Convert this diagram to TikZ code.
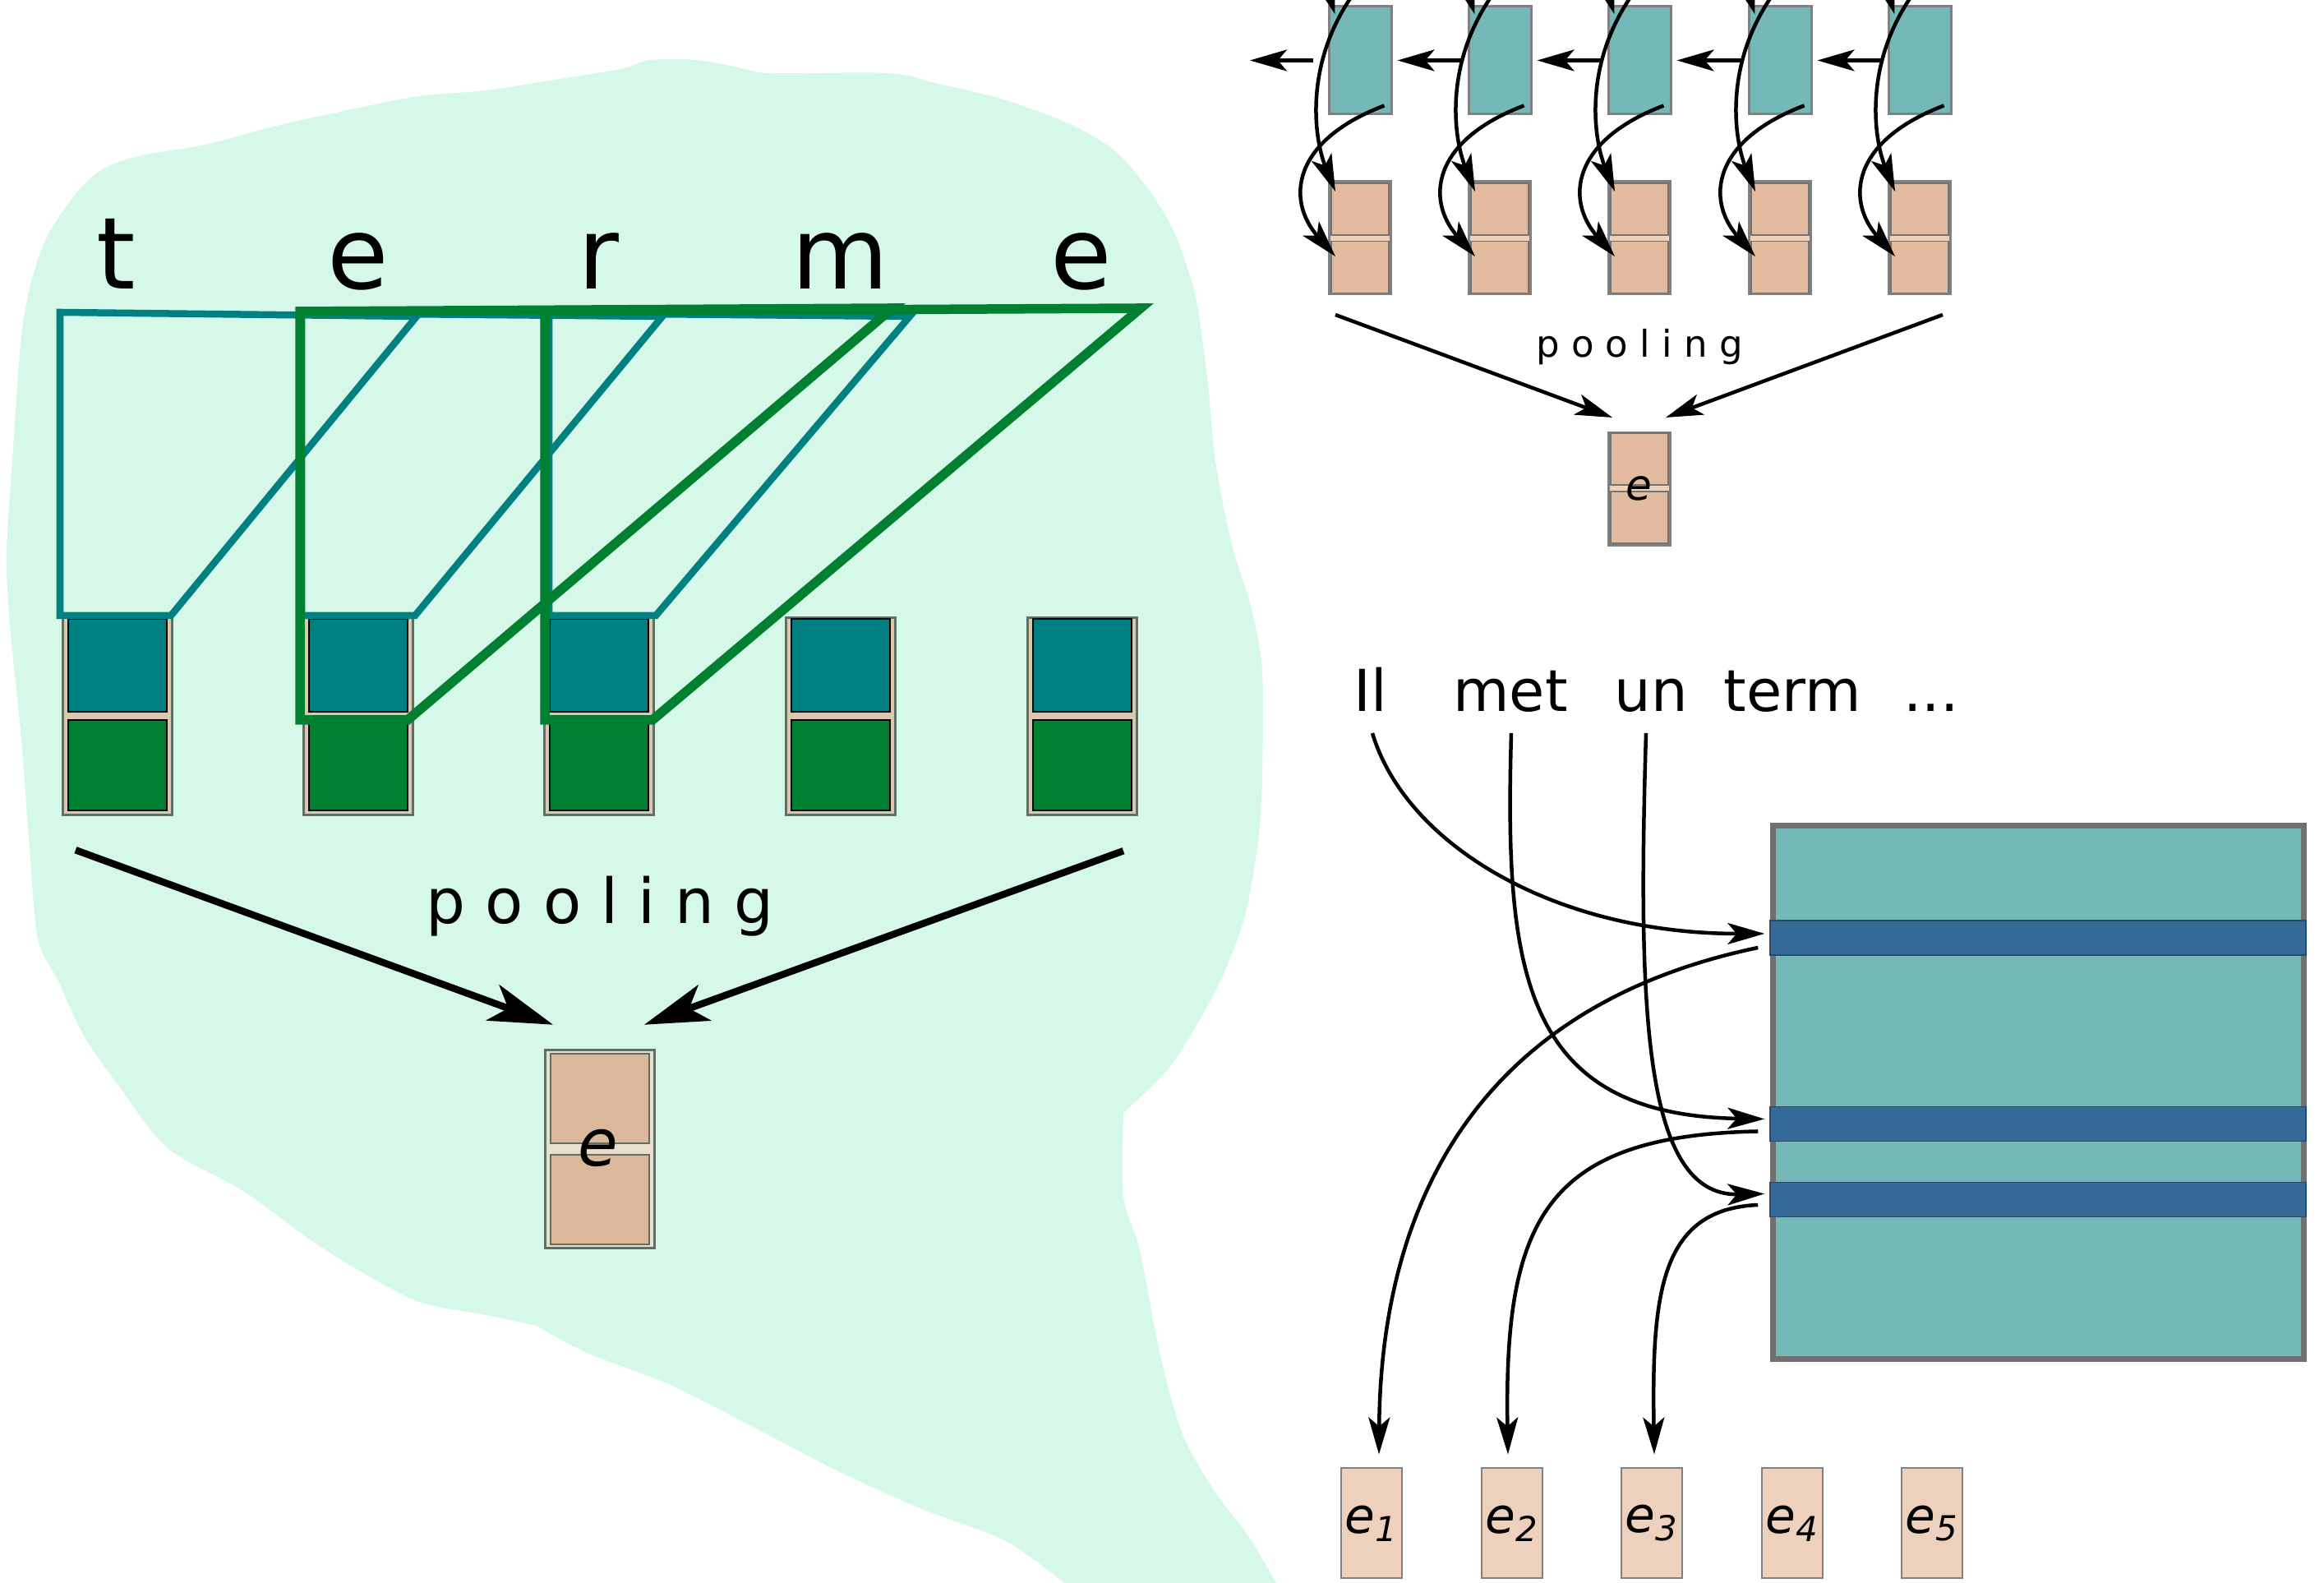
\documentclass[tikz,border=0pt]{standalone}
\usepackage{fontspec}
\setmainfont{DejaVu Sans}
\usepackage{xcolor}
\usepackage{tikz}
\usetikzlibrary{arrows.meta}

\definecolor{mint}{HTML}{D5F8E8}
\definecolor{tealk}{HTML}{008080}
\definecolor{greenk}{HTML}{008030}
\definecolor{framegray}{HTML}{5F6F65}
\definecolor{striptan}{HTML}{D9C9AD}
\definecolor{lightteal}{HTML}{74B9B8}
\definecolor{salmon}{HTML}{E2BB9E}
\definecolor{salmondk}{HTML}{DCB89B}
\definecolor{salmonlt}{HTML}{EED1BD}
\definecolor{bandblue}{HTML}{356A98}
\definecolor{mborder}{HTML}{707070}

\begin{document}
\begin{tikzpicture}[
	arr/.style={line width=0.045cm,-{Stealth[length=0.45cm,width=0.26cm,inset=0.11cm]}},
	bigarr/.style={line width=0.085cm,-{Stealth[length=0.78cm,width=0.46cm,inset=0.2cm]}},
	colframe/.style={draw=framegray,line width=0.035cm,fill=striptan,minimum width=1.33cm,minimum height=2.40cm,inner sep=0pt},
	kbox/.style={draw=black,line width=0.028cm,minimum width=1.20cm,inner sep=0pt},
	pehalf/.style={draw=framegray,line width=0.025cm,fill=salmondk,minimum width=1.20cm,minimum height=1.09cm,inner sep=0pt},
	rnnbox/.style={draw=gray,line width=0.03cm,fill=lightteal,minimum width=0.76cm,minimum height=1.31cm,inner sep=0pt},
	embframe/.style={draw=gray,line width=0.03cm,fill=salmonlt,minimum width=0.75cm,minimum height=1.37cm,inner sep=0pt},
	embhalf/.style={draw=black!55,line width=0.015cm,fill=salmon,minimum width=0.70cm,minimum height=0.63cm,inner sep=0pt},
	band/.style={draw=bandblue!70!black,line width=0.015cm,fill=bandblue,minimum width=6.52cm,minimum height=0.42cm,inner sep=0pt},
	ebox/.style={draw=gray,line width=0.02cm,fill=salmonlt,minimum width=0.74cm,minimum height=1.34cm,inner sep=0pt,font=\fontsize{17}{20}\selectfont\itshape}
	]
	\useasboundingbox (0,0) rectangle (28.28,19.26);
	\clip (0,0) rectangle (28.28,19.26);
	
	% bubble
	\fill[mint] plot[smooth,tension=0.5] coordinates {(6.53,3.13) (5.92,3.26) (5.10,3.42) (4.39,3.79) (3.77,4.18) (2.96,4.77) (2.04,5.29) (1.43,6.07) (1.02,6.66) (0.71,7.32) (0.46,7.84) (0.36,8.95) (0.26,10.26) (0.12,11.66) (0.08,12.53) (0.15,13.65) (0.26,15.18) (0.41,15.94) (0.61,16.45) (0.97,16.96) (1.28,17.22) (1.73,17.37) (2.50,17.50) (3.37,17.73) (4.28,17.93) (5.10,18.09) (5.92,18.16) (6.63,18.27) (7.55,18.42) (7.90,18.53) (8.47,18.53) (8.98,18.44) (9.38,18.37) (10.81,18.37) (11.42,18.24) (12.24,18.04) (13.06,17.73) (13.57,17.42) (13.97,16.96) (14.28,16.45) (14.54,15.69) (14.69,14.67) (14.79,13.65) (14.99,12.63) (15.23,11.85) (15.36,11.08) (15.36,9.81) (15.31,9.03) (15.16,8.16) (14.92,7.48) (14.62,6.89) (14.22,6.26) (13.67,5.72)}
		-- plot[smooth,tension=0.5] coordinates {(13.67,5.72) (13.67,4.70) (13.87,4.05) (14.10,2.86) (14.37,1.86) (14.75,1.16) (15.19,0.57) (15.53,0)}
		-- (12.95,0)
		-- plot[smooth,tension=0.5] coordinates {(12.95,0) (12.24,0.51) (11.22,0.90) (10.20,1.36) (9.18,1.89) (8.16,2.41) (7.14,2.80) (6.53,3.13)} -- cycle;
	
	% characters and filters
	\foreach \i/\x/\c in {1/1.41/t,2/4.36/e,3/7.28/r,4/10.23/m,5/13.16/e}
		\node[anchor=base,inner sep=0pt,font=\fontsize{34.5}{40}\selectfont] (ch\i) at (\x,15.74) {\c};
	\foreach \i/\x in {1/1.43,2/4.36,3/7.29,4/10.23,5/13.17}{
		\node[colframe] (frame\i) at (\x,10.545) {};
		\node[kbox,fill=tealk,minimum height=1.13cm] (kt\i) at (\x,11.165) {};
		\node[kbox,fill=greenk,minimum height=1.10cm] (kg\i) at (\x,9.95) {};
	}
	\draw[tealk,line width=0.085cm] (0.73,15.46) -- (5.07,15.41) -- (2.08,11.77) -- (0.73,11.77) -- cycle;
	\draw[tealk,line width=0.085cm] (3.67,15.45) -- (8.06,15.41) -- (5.05,11.77) -- (3.67,11.77) -- cycle;
	\draw[tealk,line width=0.085cm] (6.68,15.45) -- (11.07,15.41) -- (7.98,11.77) -- (6.68,11.77) -- cycle;
	\draw[greenk,line width=0.115cm] (3.65,15.47) -- (10.86,15.51) -- (4.96,10.50) -- (3.65,10.50) -- cycle;
	\draw[greenk,line width=0.115cm] (6.63,15.47) -- (13.88,15.51) -- (7.94,10.50) -- (6.63,10.50) -- cycle;
	
	% pooling, left
	\node[colframe,fill=striptan!60!white,minimum height=2.41cm] (pe) at (7.30,5.28) {};
	\node[pehalf] (peu) at (7.30,5.895) {};
	\node[pehalf] (pel) at (7.30,4.665) {};
	\node[font=\fontsize{22.5}{26}\selectfont\itshape,inner sep=0pt] (pelab) at (7.28,5.29) {e};
	\node[anchor=base,font=\fontsize{21.5}{26}\selectfont] (poolL) at (7.30,8.02) {p o o l i n g};
	\draw[bigarr] ([shift={(-0.51,-0.41)}]frame1.south) -- ([shift={(-0.57,0.29)}]pe.north);
	\draw[bigarr] ([shift={(0.50,-0.42)}]frame5.south) -- ([shift={(0.54,0.29)}]pe.north);
	
	% right top: recurrent cells
	\foreach \i/\x in {1/16.55,2/18.25,3/19.95,4/21.66,5/23.36}{
		\node[rnnbox] (rnn\i) at (\x,18.525) {};
		\node[embframe] (emb\i) at (\x,16.37) {};
		\node[embhalf] (embu\i) at (\x,16.715) {};
		\node[embhalf] (embl\i) at (\x,16.01) {};
	}
	\foreach \i in {1,...,5}{
		\draw[arr] ([shift={(-0.08,0.45)}]rnn\i.north west) -- ([shift={(0.09,-0.11)}]rnn\i.north west);
		\draw[arr] ([shift={(0.05,0.31)}]rnn\i.north) .. controls +(-0.75,-0.9) and +(-0.27,0.67) .. ([shift={(0.09,-0.14)}]emb\i.north west);
		\draw[arr] ([shift={(-0.10,0.12)}]rnn\i.south east) .. controls +(-1.13,-0.43) and +(-0.6,0.68) .. ([shift={(0.09,-0.93)}]emb\i.north west);
	}
	\foreach \i/\j in {2/1,3/2,4/3,5/4}
		\draw[arr,shorten <=0.08cm,shorten >=0.06cm] (rnn\i.west) -- (rnn\j.east);
	\coordinate (rnn0) at (15.21,18.525);
	\draw[arr,shorten <=0.18cm] (rnn1.west) -- (rnn0);
	
	\node[embframe] (pe2) at (19.95,13.31) {};
	\node[embhalf] (pe2u) at (19.95,13.675) {};
	\node[embhalf] (pe2l) at (19.95,12.965) {};
	\node[font=\fontsize{14.7}{17}\selectfont\itshape,inner sep=0pt] (pe2lab) at (19.94,13.32) {e};
	\node[anchor=base,font=\fontsize{12.8}{15}\selectfont] (poolR) at (19.95,14.91) {p o o l i n g};
	\draw[arr] ([shift={(-0.30,-0.24)}]emb1.south) -- ([shift={(-0.33,0.17)}]pe2.north);
	\draw[arr] ([shift={(0.28,-0.24)}]emb5.south) -- ([shift={(0.32,0.17)}]pe2.north);
	
	% right bottom: lookup table
	\foreach \i/\x/\w in {1/16.68/Il,2/18.38/met,3/20.09/un,4/21.81/term}
		\node[anchor=base,inner sep=0pt,font=\fontsize{20}{24}\selectfont] (w\i) at (\x,10.60) {\w};
	\node[anchor=base,inner sep=0pt,font=\fontsize{20}{24}\selectfont] (w5) at (23.50,10.60) {...};
	\node[draw=mborder,line width=0.07cm,fill=lightteal,minimum width=6.46cm,minimum height=6.49cm,inner sep=0pt] (mat) at (24.805,5.97) {};
	\node[band] (band1) at (24.80,7.85) {};
	\node[band] (band2) at (24.80,5.585) {};
	\node[band] (band3) at (24.80,4.665) {};
	\foreach \i/\x in {1/16.69,2/18.40,3/20.10,4/21.81,5/23.51}
		\node[ebox] (ebox\i) at (\x,0.725) {e\textsubscript{\i}};
	
	\draw[arr] ([shift={(0.02,-0.26)}]w1.base) .. controls +(0.4,-1.34) and +(-2.58,0) .. ([shift={(-0.06,0.05)}]band1.west);
	\draw[arr] ([shift={(0.01,-0.26)}]w2.base) .. controls +(-0.08,-2.84) and +(-2.98,0.05) .. ([shift={(-0.06,0.06)}]band2.west);
	\draw[arr] ([shift={(-0.06,-0.26)}]w3.base) .. controls +(-0.10,-3.34) and +(-1.48,-0.03) .. ([shift={(-0.06,0.07)}]band3.west);
	\draw[arr] ([shift={(-0.14,-0.12)}]band1.west) .. controls +(-3.5,-0.73) and +(0.02,2.94) .. ([shift={(0.09,0.16)}]ebox1.north);
	\draw[arr] ([shift={(-0.14,-0.09)}]band2.west) .. controls +(-2.6,-0.05) and +(-0.05,2.84) .. ([shift={(-0.05,0.16)}]ebox2.north);
	\draw[arr] ([shift={(-0.14,-0.065)}]band3.west) .. controls +(-1.2,-0.05) and +(-0.03,1.94) .. ([shift={(0.03,0.16)}]ebox3.north);
\end{tikzpicture}
\end{document}
